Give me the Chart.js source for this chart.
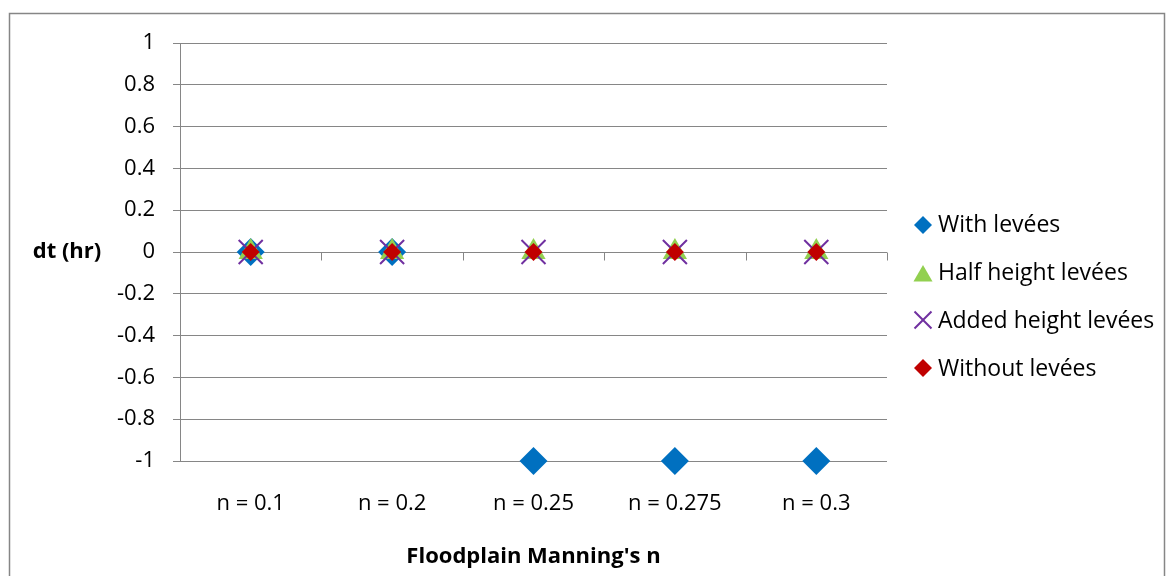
<!DOCTYPE html>
<html>
<head>
<meta charset="utf-8">
<script src="https://cdn.jsdelivr.net/npm/chart.js@4/dist/chart.umd.min.js"></script>
<style>
	body { margin: 0; background: #fff; }
	#wrap { width: 1169px; height: 576px; }
</style>
</head>
<body>
<div id="wrap"><canvas id="dt" width="1169" height="576"></canvas></div>
<script>
//data
const categories = ["n = 0.1", "n = 0.2", "n = 0.25", "n = 0.275", "n = 0.3"];
const withLevees = [0, 0, -1, -1, -1];
const halfHeightLevees = [0, 0, 0, 0, 0];
const addedHeightLevees = [0, 0, 0, 0, 0];
const withoutLevees = [0, 0, 0, 0, 0];
const seriesNames = ["With levées", "Half height levées", "Added height levées", "Without levées"];

const FONT = "'Open Sans', sans-serif";
const GRID = "#868686";

Chart.defaults.font.family = FONT;
Chart.defaults.color = "#000";

//frame, zero axis ticks, y title, legend
const excelBits = {
	id: "excelBits",
	beforeDraw(chart) {
		const ctx = chart.ctx;
		ctx.save();
		ctx.fillStyle = "#fff";
		ctx.fillRect(0, 0, chart.width, chart.height);
		ctx.strokeStyle = GRID;
		ctx.lineWidth = 1.5;
		ctx.strokeRect(9.5, 13.5, 1155, 620);
		ctx.restore();
	},
	beforeDatasetsDraw(chart) {
		const ctx = chart.ctx;
		const x = chart.scales.x;
		const y0 = Math.round(chart.scales.y.getPixelForValue(0)) + 0.5;
		const half = (x.getPixelForValue(1) - x.getPixelForValue(0)) / 2;
		ctx.save();
		ctx.strokeStyle = GRID;
		ctx.lineWidth = 1;
		ctx.beginPath();
		for (let i = 0; i <= categories.length; i++) {
			const px = Math.round(x.getPixelForValue(i) - half) + 0.5;
			ctx.moveTo(px, y0);
			ctx.lineTo(px, y0 + 8);
		}
		ctx.stroke();
		ctx.restore();
	},
	afterDraw(chart) {
		const ctx = chart.ctx;
		ctx.save();
		ctx.fillStyle = "#000";
		ctx.font = "bold 22px " + FONT;
		ctx.textAlign = "center";
		ctx.textBaseline = "middle";
		ctx.fillText("dt (hr)", 67, chart.scales.y.getPixelForValue(0));

		// legend
		ctx.font = "23px " + FONT;
		ctx.textAlign = "left";
		ctx.textBaseline = "alphabetic";
		const legendMarks = [
			{ style: "rectRot", r: 9, dy: 1 },
			{ style: "triangle", r: 11, dy: 4 },
			{ style: "crossRot", r: 12, dy: 0 },
			{ style: "rectRot", r: 9, dy: 0 },
		];
		chart.data.datasets.forEach(function (ds, i) {
			const rowY = 224 + i * 48;
			const m = legendMarks[i];
			ctx.fillStyle = ds.pointBackgroundColor;
			ctx.strokeStyle = ds.pointBorderColor;
			Chart.helpers.drawPoint(ctx, {
				pointStyle: m.style,
				radius: m.r,
				rotation: 0,
				borderWidth: ds.pointBorderWidth,
			}, 923, rowY + m.dy);
			ctx.fillStyle = "#000";
			ctx.fillText(seriesNames[i], 938, rowY + 8);
		});
		ctx.restore();
	},
};

let dtCtx = document.getElementById("dt").getContext("2d");
let dtChart = new Chart(dtCtx, {
	type: "line",
	data: {
		labels: categories,
		datasets: [
			{
				label: seriesNames[0],
				data: withLevees,
				showLine: false,
				pointStyle: "rectRot",
				pointRadius: 14,
				pointBackgroundColor: "#0070C0",
				pointBorderColor: "#0070C0",
				pointBorderWidth: 0,
				order: 4,
			},
			{
				label: seriesNames[1],
				data: halfHeightLevees,
				showLine: false,
				pointStyle: "triangle",
				pointRadius: 14,
				pointBackgroundColor: "#92D050",
				pointBorderColor: "#92D050",
				pointBorderWidth: 0,
				order: 3,
			},
			{
				label: seriesNames[2],
				data: addedHeightLevees,
				showLine: false,
				pointStyle: "crossRot",
				pointRadius: 17,
				pointBackgroundColor: "#7030A0",
				pointBorderColor: "#7030A0",
				pointBorderWidth: 2,
				order: 2,
			},
			{
				label: seriesNames[3],
				data: withoutLevees,
				showLine: false,
				pointStyle: "rectRot",
				pointRadius: 9,
				pointBackgroundColor: "#C00000",
				pointBorderColor: "#C00000",
				pointBorderWidth: 0,
				order: 1,
			},
		],
	},
	options: {
		responsive: false,
		devicePixelRatio: 1,
		animation: false,
		events: [],
		clip: false,
		layout: {
			padding: { left: 0, top: 43, right: 282, bottom: 0 },
		},
		scales: {
			x: {
				offset: true,
				grid: { display: false, drawTicks: false },
				border: { display: false },
				ticks: { font: { size: 22 }, padding: 30, maxRotation: 0 },
				title: {
					display: true,
					text: "Floodplain Manning's n",
					font: { size: 22, weight: "bold" },
					padding: { top: 0, bottom: 6 },
				},
				afterFit(scale) {
					scale.height = 115;
				},
			},
			y: {
				min: -1,
				max: 1,
				ticks: {
					stepSize: 0.2,
					font: { size: 22 },
					padding: 18,
					callback: function (v) {
						return String(parseFloat(v.toFixed(2)));
					},
				},
				grid: { color: GRID, tickLength: 7 },
				border: { color: GRID },
				afterFit(scale) {
					scale.width = 180;
				},
			},
		},
		plugins: {
			legend: { display: false },
			tooltip: { enabled: false },
		},
	},
	plugins: [excelBits],
});
</script>
</body>
</html>
